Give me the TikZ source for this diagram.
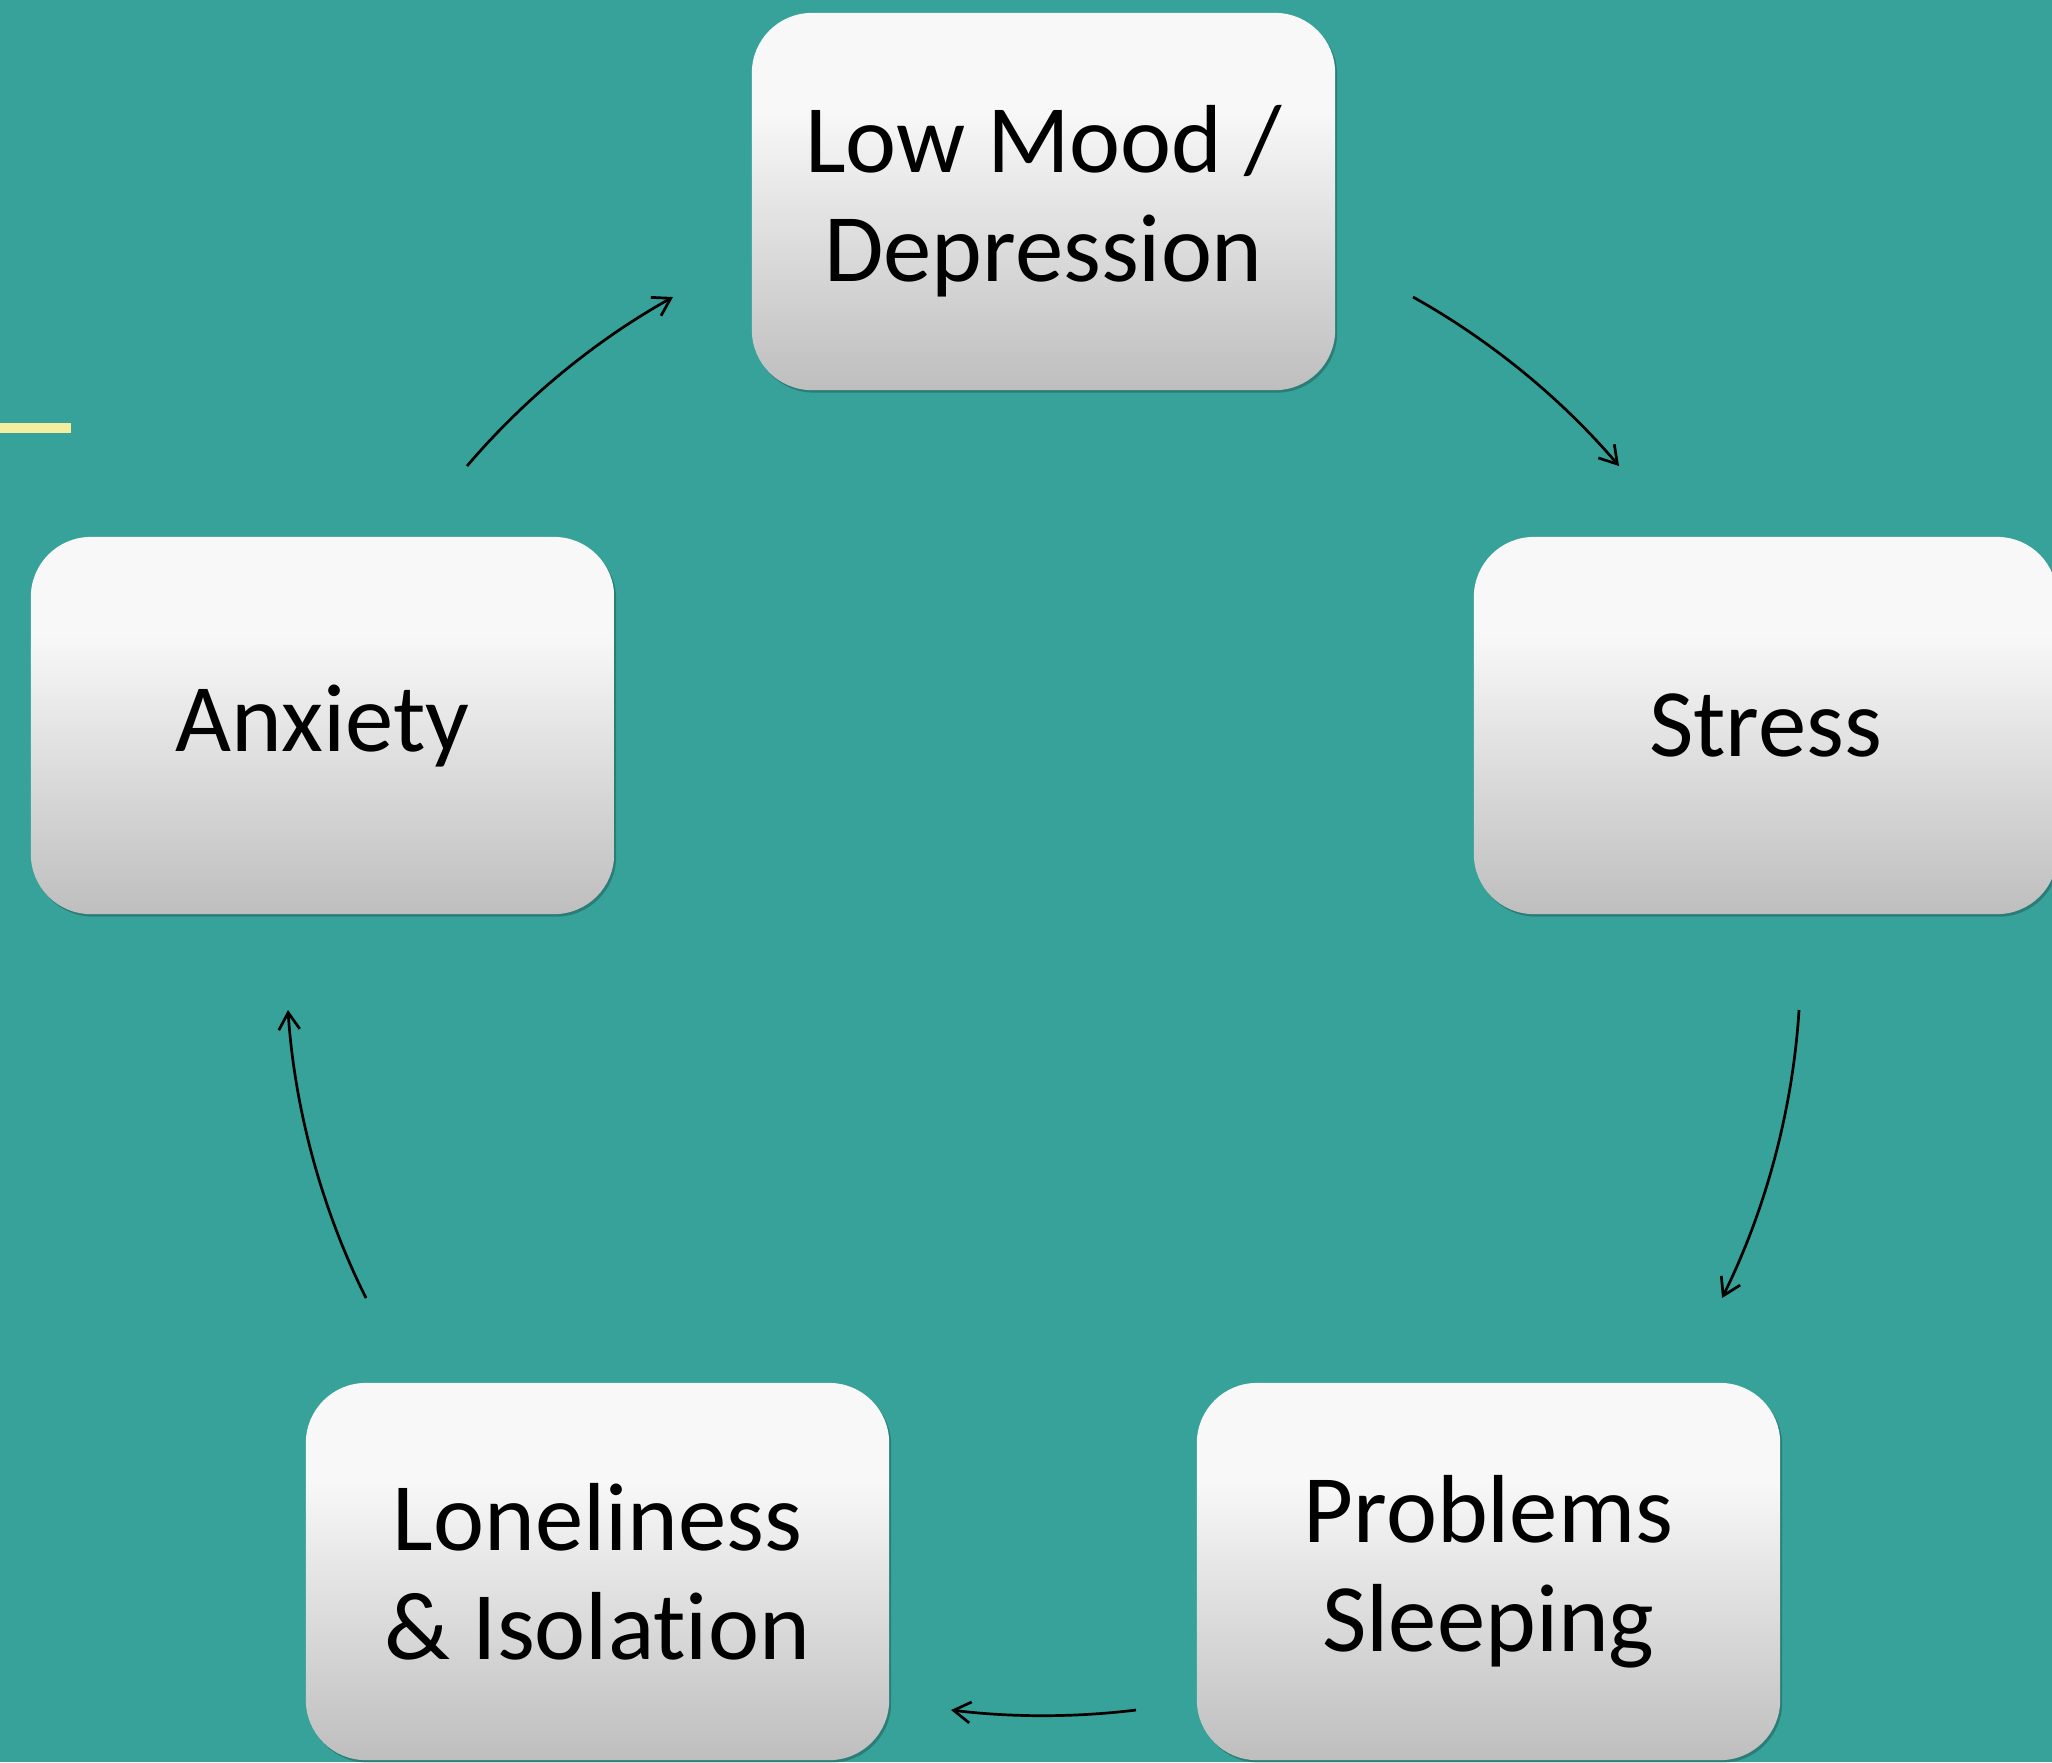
\documentclass[tikz,border=0pt]{standalone}
\usepackage{fontspec}
\setmainfont{Carlito}[Ligatures={NoCommon,NoRare}]
\usetikzlibrary{arrows.meta,shadows}
\definecolor{bgteal}{RGB}{54,162,153}
\definecolor{paleyellow}{RGB}{243,238,160}
\definecolor{boxtop}{RGB}{248,248,248}
\definecolor{boxbot}{RGB}{190,190,190}
\pgfdeclareverticalshading{boxshade}{100bp}{color(0bp)=(boxbot); color(25bp)=(boxbot); color(62bp)=(boxtop); color(75bp)=(boxtop); color(100bp)=(boxtop)}
\tikzset{
  card/.style={rectangle, rounded corners=0.6cm, minimum width=5.83cm, minimum height=3.77cm,
    shading=boxshade, align=center, text=black, inner sep=0pt,
    font=\fontsize{27.5}{31}\selectfont,
    drop shadow={shadow xshift=0.02cm, shadow yshift=-0.025cm, fill=black, opacity=0.22}},
  cyc/.style={line width=0.027cm, draw=black, -{Straight Barb[length=0.17cm,width=0.21cm]}, looseness=0.85}
}
\begin{document}
\begin{tikzpicture}[x=0.01cm, y=-0.01cm]
\fill[bgteal] (0,0) rectangle (2052,1762);
\useasboundingbox (0,0) rectangle (2052,1762);
\fill[paleyellow] (0,423) rectangle (71,433);

\node[card] (low)  at (1043.5,201.5) {Low Mood /\\Depression};
\node[card] (anx)  at (322.5,725.5) {Anxiety};
\node[card] (str)  at (1765.5,725.5) {Stress};
\node[card] (lone) at (597.5,1571.5) {Loneliness\\\& Isolation};
\node[card] (prob) at (1488.5,1571.5) {Problems\\Sleeping};

\coordinate (a1s) at (467,466);   \coordinate (a1e) at (673,297);
\coordinate (a2s) at (1413,297);  \coordinate (a2e) at (1619,466);
\coordinate (a3s) at (1799,1010); \coordinate (a3e) at (1722,1298);
\coordinate (a4s) at (1136,1710); \coordinate (a4e) at (951,1710);
\coordinate (a5s) at (366,1298);  \coordinate (a5e) at (288,1010);

\draw[cyc] (a1s) to[bend left=10.2] (a1e);
\draw[cyc] (a2s) to[bend left=10.2] (a2e);
\draw[cyc] (a3s) to[bend left=11.4] (a3e);
\draw[cyc] (a4s) to[bend left=7] (a4e);
\draw[cyc] (a5s) to[bend left=11.4] (a5e);
\end{tikzpicture}
\end{document}
